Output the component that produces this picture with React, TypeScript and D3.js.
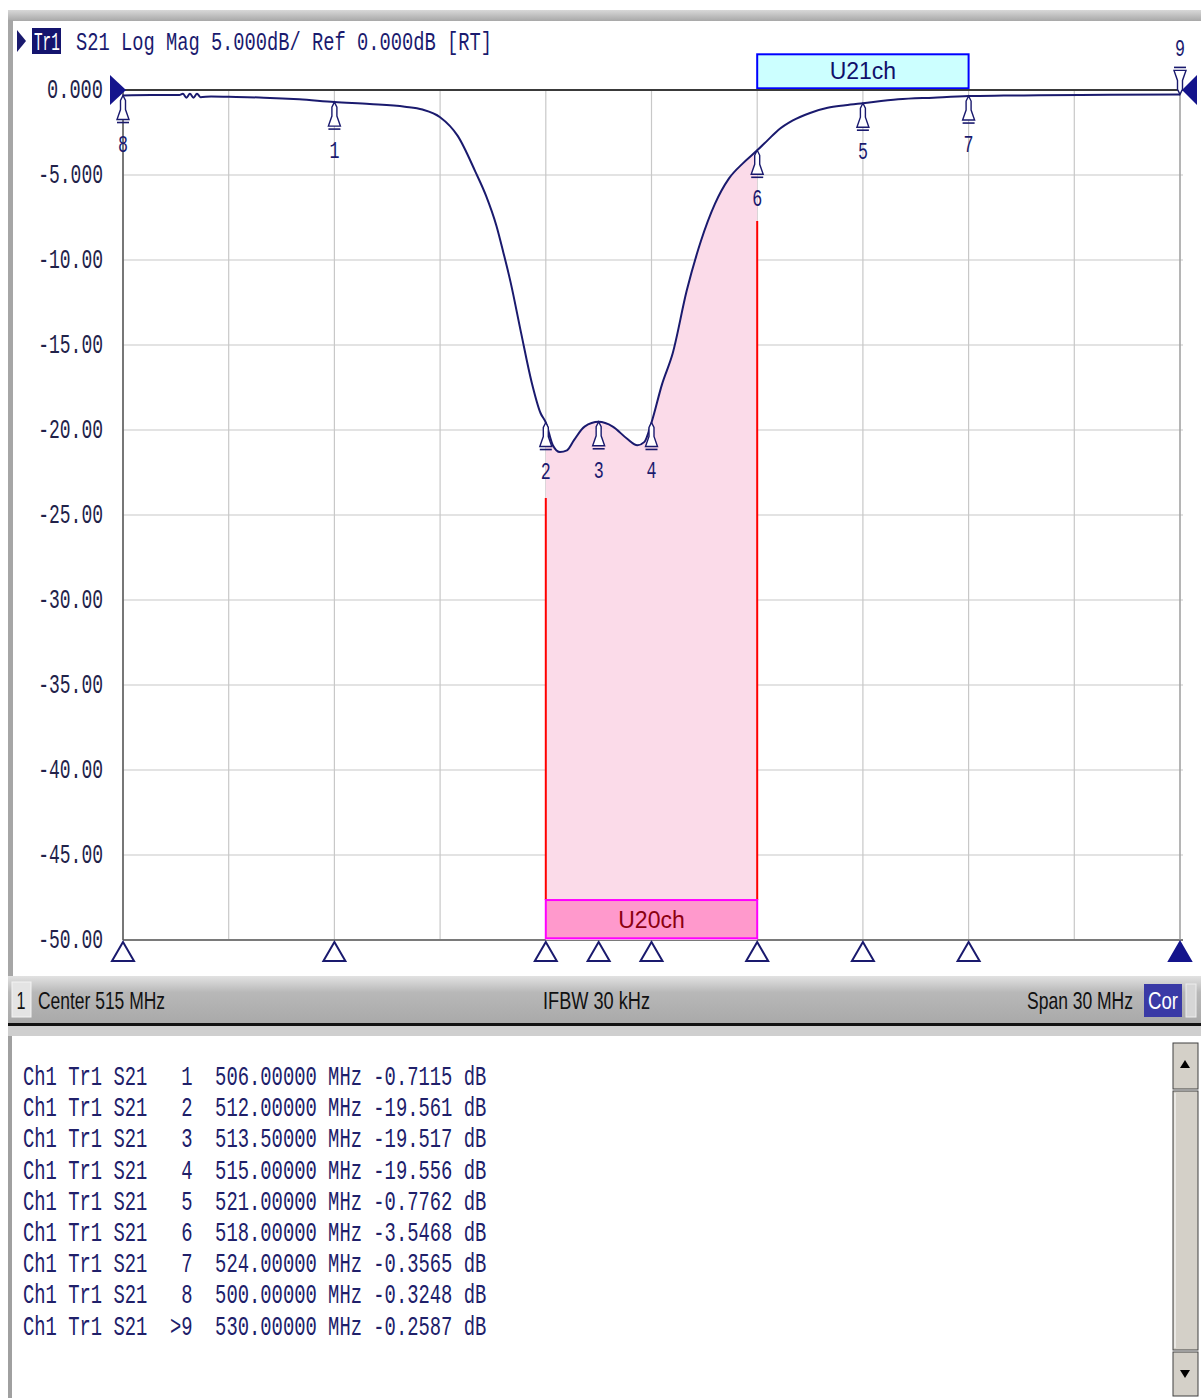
import * as d3 from "d3";

// trace S21
const traceFreq = [
  500, 500.8, 501.6, 501.7, 501.8, 501.9, 502.0, 502.1, 502.2, 502.5, 503, 504,
  505, 506, 507, 508, 508.5, 509, 509.5, 510, 510.3, 510.6, 510.8, 511, 511.3,
  511.6, 511.85, 512, 512.2, 512.4, 512.6, 512.8, 513.1, 513.5, 513.9, 514.3,
  514.6, 514.8, 515, 515.3, 515.6, 516, 516.4, 516.8, 517.2, 517.6, 518, 518.3,
  518.6, 519, 519.5, 520, 520.5, 521, 522, 523, 524, 525, 526, 528, 530,
];
const traceDb = [
  -0.32, -0.3, -0.3, -0.22, -0.45, -0.22, -0.45, -0.22, -0.42, -0.38, -0.4,
  -0.45, -0.55, -0.71, -0.82, -0.98, -1.15, -1.6, -2.7, -4.8, -6.2, -8.0, -9.6,
  -11.3, -14.3, -17.2, -19.0, -19.56, -20.9, -21.3, -21.2, -20.6, -19.8, -19.52,
  -19.8, -20.5, -20.9, -20.7, -19.56, -17.3, -15.5, -11.8, -8.9, -6.7, -5.2,
  -4.3, -3.55, -2.95, -2.35, -1.8, -1.35, -1.05, -0.9, -0.78, -0.55, -0.45, -0.36,
  -0.33, -0.31, -0.28, -0.26,
];

const markerIds = ["1", "2", "3", "4", "5", "6", "7", "8", "9"];
const markerFreq = [506, 512, 513.5, 515, 521, 518, 524, 500, 530];
const markerDb = [-0.7115, -19.561, -19.517, -19.556, -0.7762, -3.5468, -0.3565, -0.3248, -0.2587];
const activeMarker = "9";

const yLabels = ["0.000", "-5.000", "-10.00", "-15.00", "-20.00", "-25.00", "-30.00", "-35.00", "-40.00", "-45.00", "-50.00"];
const yTickValues = [0, -5, -10, -15, -20, -25, -30, -35, -40, -45, -50];
const xGridFreq = [500, 503, 506, 509, 512, 515, 518, 521, 524, 527, 530];

// limit segments (red) and the two channel boxes
const limitFreq = [512, 518];
const limitTopDb = [-24, -7.7];
const limitBottomDb = -47.65;
const u20 = { label: "U20ch", f0: 512, f1: 518, top: -47.65, bottom: -49.9 };
const u21 = { label: "U21ch", f0: 518, f1: 524, top: 2.1, bottom: 0.1 };

const NAVY = "#1a1a6e";
const W = 1201;
const H = 1398;

const x = d3.scaleLinear().domain([500, 530]).range([123, 1180]);
const y = d3.scaleLinear().domain([-50, 0]).range([940, 90]);

function Mono({ tx, ty, text, cw = 11.3, size = 27, anchor = "start", fill = NAVY }: any) {
  return (
    <text
      x={tx}
      y={ty}
      fontFamily="Liberation Mono, DejaVu Sans Mono, monospace"
      fontSize={size}
      textLength={text.length * cw}
      lengthAdjust="spacingAndGlyphs"
      textAnchor={anchor}
      fill={fill}
      style={{ whiteSpace: "pre" }}
    >
      {text}
    </text>
  );
}

// status bar font: narrow, tall
function Narrow({ tx, ty, text, len, fill = "#111", anchor = "start" }: any) {
  return (
    <text
      transform={`translate(${tx},${ty}) scale(1,1.4)`}
      fontFamily="Liberation Sans, Arial, sans-serif"
      fontSize={17}
      textLength={len}
      lengthAdjust="spacingAndGlyphs"
      textAnchor={anchor}
      fill={fill}
    >
      {text}
    </text>
  );
}

const fmtDb = (v: number) => (Math.abs(v) >= 10 ? v.toFixed(3) : v.toFixed(4));

export default function App() {
  const pts = traceFreq.map((f, i) => [f, traceDb[i]] as [number, number]);
  const line = d3
    .line<[number, number]>()
    .x((d) => x(d[0]))
    .y((d) => y(d[1]))
    .curve(d3.curveMonotoneX);
  const area = d3
    .area<[number, number]>()
    .x((d) => x(d[0]))
    .y0(y(-50))
    .y1((d) => y(d[1]))
    .curve(d3.curveMonotoneX);
  const fillPts = pts.filter((d) => d[0] >= u20.f0 && d[0] <= u20.f1);

  const markerPath = "M0,0 L-2.5,5 L-2.5,14 L-6,24 L6,24 L2.5,14 L2.5,5 Z";

  return (
    <div style={{ position: "absolute", left: 0, top: 0 }}>
      <svg width={W} height={H} style={{ display: "block", background: "#fff" }}>
        <defs>
          <linearGradient id="topband" x1="0" y1="0" x2="0" y2="1">
            <stop offset="0" stopColor="#d8d8d8" />
            <stop offset="1" stopColor="#a8a8a8" />
          </linearGradient>
          <linearGradient id="status" x1="0" y1="0" x2="0" y2="1">
            <stop offset="0" stopColor="#e2e2e2" />
            <stop offset="0.35" stopColor="#b8b8b8" />
            <stop offset="1" stopColor="#a9a9a9" />
          </linearGradient>
        </defs>

        {/* frame */}
        <rect x={8} y={10} width={W - 8} height={11} fill="url(#topband)" />
        <rect x={8} y={20} width={5} height={957} fill="#a6a6a6" />

        {/* header */}
        <path d="M17,30 L26,41 L17,52 Z" fill={NAVY} />
        <rect x={32} y={28} width={29} height={26} fill="#14146e" />
        <Mono tx={34} ty={50} text="Tr1" cw={8.6} size={25} fill="#fff" />
        <Mono tx={76} ty={50} text="S21 Log Mag 5.000dB/ Ref 0.000dB [RT]" cw={11.24} size={26} />

        {/* grid */}
        {xGridFreq.map((f) => (
          <line key={f} x1={x(f)} x2={x(f)} y1={y(0)} y2={y(-50)} stroke="#c8c8c8" strokeWidth={1.2} />
        ))}
        {yTickValues.map((v) => (
          <line key={v} x1={x(500)} x2={x(530) + 3} y1={y(v)} y2={y(v)} stroke="#c8c8c8" strokeWidth={1.2} />
        ))}
        <line x1={x(500)} x2={x(530) + 3} y1={y(-50)} y2={y(-50)} stroke="#7a7a7a" strokeWidth={2} />
        <line x1={x(500)} x2={x(500)} y1={y(0)} y2={y(-50)} stroke="#555" strokeWidth={1.5} />
        <line x1={x(530)} x2={x(530)} y1={y(0)} y2={y(-50)} stroke="#999" strokeWidth={1.2} />

        {yLabels.map((t, i) => (
          <Mono key={t} tx={103} ty={y(yTickValues[i]) + 8} text={t} cw={t.length === 5 ? 11.2 : 10.8} size={27} anchor="end" fill="#22224a" />
        ))}

        {/* filled pass region */}
        <path d={area(fillPts) ?? ""} fill="#fbdbe9" />
        {limitFreq.map((f, i) => (
          <line key={f} x1={x(f)} x2={x(f)} y1={y(limitTopDb[i])} y2={y(limitBottomDb)} stroke="#ff0000" strokeWidth={2} />
        ))}

        {/* channel boxes */}
        <rect x={x(u20.f0)} y={y(u20.top)} width={x(u20.f1) - x(u20.f0)} height={y(u20.bottom) - y(u20.top)} fill="#ff99cc" stroke="#ff00ff" strokeWidth={2} />
        <text x={(x(u20.f0) + x(u20.f1)) / 2} y={y(u20.bottom) - 10} textAnchor="middle" fontFamily="Liberation Sans, Arial, sans-serif" fontSize={23} fill="#8b0010">
          {u20.label}
        </text>
        <rect x={x(u21.f0)} y={y(u21.top)} width={x(u21.f1) - x(u21.f0)} height={y(u21.bottom) - y(u21.top)} fill="#ccffff" stroke="#0000ff" strokeWidth={2} />
        <text x={(x(u21.f0) + x(u21.f1)) / 2} y={y(u21.bottom) - 9} textAnchor="middle" fontFamily="Liberation Sans, Arial, sans-serif" fontSize={23} fill="#10106a">
          {u21.label}
        </text>

        {/* reference line and trace */}
        <line x1={x(500)} x2={x(530) + 3} y1={y(0)} y2={y(0)} stroke="#3a3a3a" strokeWidth={2} />
        <path d={line(pts) ?? ""} fill="none" stroke={NAVY} strokeWidth={2} />

        {/* reference level arrows */}
        <path d={`M110,${y(0) - 15} L126,${y(0)} L110,${y(0) + 15} Z`} fill="#14148c" />
        <path d={`M1197,${y(0) - 15} L1182,${y(0)} L1197,${y(0) + 15} Z`} fill="#14148c" />

        {/* markers */}
        {markerIds.map((id, i) => {
          const mx = x(markerFreq[i]);
          const my = y(markerDb[i]);
          const up = id === activeMarker;
          return (
            <g key={id}>
              <g transform={`translate(${mx},${my}) scale(1,${up ? -1 : 1})`}>
                <path d={markerPath} fill="#fff" stroke={NAVY} strokeWidth={1.4} />
                <path d="M-6,27 H6" stroke={NAVY} strokeWidth={1.6} />
              </g>
              <Mono tx={mx} ty={up ? my - 38 : my + 56} text={id} cw={10} size={24} anchor="middle" />
              <path
                d={`M${mx},942 L${mx + 11},961 L${mx - 11},961 Z`}
                fill={up ? "#14148c" : "#fff"}
                stroke={up ? "#14148c" : NAVY}
                strokeWidth={2}
              />
            </g>
          );
        })}

        {/* status bar */}
        <rect x={8} y={976} width={W - 8} height={47} fill="url(#status)" />
        <rect x={12} y={982} width={19} height={35} fill="#e4e4e4" stroke="#f4f4f4" strokeWidth={1} />
        <Narrow tx={21} ty={1009} text="1" len={9} anchor="middle" />
        <Narrow tx={38} ty={1009} text="Center 515 MHz" len={127} />
        <Narrow tx={543} ty={1009} text="IFBW 30 kHz" len={107} />
        <Narrow tx={1027} ty={1009} text="Span 30 MHz" len={106} />
        <rect x={1144} y={984} width={38} height={33} fill="#3a3aa6" />
        <Narrow tx={1163} ty={1009} text="Cor" len={30} fill="#fff" anchor="middle" />
        <rect x={1186} y={984} width={10} height={33} fill="#d6d6d6" stroke="#eee" />
        <rect x={8} y={1023} width={W - 8} height={3} fill="#111" />
        <rect x={8} y={1026} width={W - 8} height={10} fill="#cfcfcf" />

        {/* marker table */}
        <rect x={8} y={1036} width={4} height={H - 1036} fill="#a0a0a0" />
        {markerIds.map((id, i) => {
          const num = (id === activeMarker ? ">" + id : id).padStart(4, " ");
          const row = `Ch1 Tr1 S21${num}  ${markerFreq[i].toFixed(5)} MHz ${fmtDb(markerDb[i])} dB`;
          return <Mono key={id} tx={23} ty={1085 + i * 31.2} text={row} cw={11.3} size={27} fill="#20206a" />;
        })}

        {/* scrollbar */}
        <g>
          <rect x={1173} y={1043} width={25} height={46} fill="#d4d0c8" stroke="#404040" strokeWidth={1} />
          <path d="M1185,1060 L1190,1068 L1180,1068 Z" fill="#000" />
          <rect x={1173} y={1091} width={25} height={259} fill="#d4d0c8" stroke="#404040" strokeWidth={1} />
          <line x1={1175} x2={1175} y1={1093} y2={1348} stroke="#fff" />
          <rect x={1173} y={1352} width={25} height={44} fill="#d4d0c8" stroke="#404040" strokeWidth={1} />
          <path d="M1180,1370 L1190,1370 L1185,1378 Z" fill="#000" />
        </g>
      </svg>
    </div>
  );
}
